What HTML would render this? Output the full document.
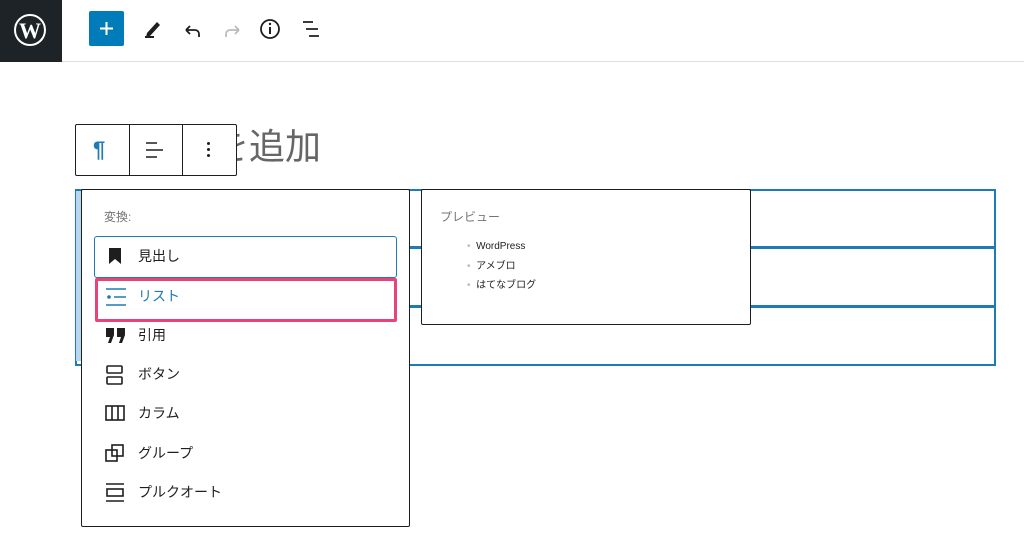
<!DOCTYPE html>
<html><head><meta charset="utf-8"><style>
*{margin:0;padding:0;box-sizing:border-box}
body{width:1024px;height:534px;background:#fff;position:relative;overflow:hidden;font-family:"Liberation Sans","Noto Sans CJK JP",sans-serif;color:#1e1e1e}
.a{position:absolute}
.it{position:absolute;left:138px;font-size:14px;line-height:20px}
</style></head><body>
<div class="a" style="left:0;top:0;width:1024px;height:62px;border-bottom:1px solid #ddd"></div>
<div class="a" style="left:0;top:0;width:62px;height:62px;background:#1d2327"></div>
<svg class="a" style="left:13px;top:13px" width="34" height="34" viewBox="0 0 34 34"><circle cx="17" cy="17" r="15" fill="none" stroke="#fff" stroke-width="2"/><text x="17" y="25" text-anchor="middle" font-family="Liberation Serif" font-weight="bold" font-size="22" fill="#fff">W</text></svg>
<div class="a" style="left:89px;top:11px;width:35px;height:35px;background:#007cba;border-radius:2px"></div>
<svg class="a" style="left:89px;top:11px" width="35" height="35"><path d="M17.5 11v13M11 17.5h13" stroke="#fff" stroke-width="2"/></svg>
<svg class="a" style="left:140px;top:16px" width="190" height="26" viewBox="0 0 190 26">
<path d="M5 21h9" stroke="#1e1e1e" stroke-width="2"/><path d="M7 17l10-11 3 3-10 11-4 1z" fill="#1e1e1e"/>
<path d="M46 14h9a4 4 0 0 1 4 4v3M46 14l4-4M46 14l4 4" stroke="#1e1e1e" stroke-width="1.8" fill="none"/>
<path d="M99 14h-9a4 4 0 0 0-4 4v3M99 14l-4-4M99 14l-4 4" stroke="#bbb" stroke-width="1.8" fill="none"/>
<circle cx="130" cy="13" r="9" fill="none" stroke="#1e1e1e" stroke-width="1.8"/><path d="M130 11v7" stroke="#1e1e1e" stroke-width="2"/><circle cx="130" cy="8" r="1.2" fill="#1e1e1e"/>
<path d="M163 6h10M166 13h12M169 20h10" stroke="#1e1e1e" stroke-width="1.8"/>
</svg>
<div class="a" style="left:213px;top:124px;font-size:36px;color:#666;line-height:46px">を追加</div>
<div class="a" style="left:75px;top:189px;width:921px;height:59px;border:2px solid #1e7bb5"></div>
<div class="a" style="left:75px;top:247px;width:921px;height:60px;border:2px solid #1e7bb5"></div>
<div class="a" style="left:75px;top:306px;width:921px;height:60px;border:2px solid #1e7bb5"></div>
<div class="a" style="left:76px;top:191px;width:6px;height:170px;background:#b8d7ef"></div>
<div class="a" style="left:75px;top:124px;width:162px;height:52px;border:1px solid #1e1e1e;background:#fff;border-radius:2px"></div>
<div class="a" style="left:129px;top:124px;width:1px;height:52px;background:#1e1e1e"></div>
<div class="a" style="left:182px;top:124px;width:1px;height:52px;background:#1e1e1e"></div>
<div class="a" style="left:93px;top:137px;font-size:22px;color:#1e7bb5;font-weight:bold">¶</div>
<svg class="a" style="left:142px;top:138px" width="24" height="24"><path d="M4 5h11M4 12h17M4 19h11" stroke="#1e1e1e" stroke-width="1.5"/></svg>
<div class="a" style="left:207px;top:142px;width:3px;height:3px;background:#1e1e1e;border-radius:50%;box-shadow:0 6px #1e1e1e,0 12px #1e1e1e"></div>
<div class="a" style="left:81px;top:189px;width:329px;height:338px;border:1px solid #1e1e1e;background:#fff;border-radius:2px"></div>
<div class="a" style="left:104px;top:208px;font-size:12px;color:#757575">変換:</div>
<div class="a" style="left:94px;top:236px;width:303px;height:42px;border:1.5px solid #1e7bb5;border-radius:3px"></div>
<div class="a" style="left:95px;top:278px;width:302px;height:44px;border:3px solid #e8437a;border-radius:2px"></div>
<svg class="a" style="left:106px;top:246px" width="20" height="20"><path d="M3 2h12v16l-6-5-6 5z" fill="#1e1e1e"/></svg>
<div class="it" style="top:246px">見出し</div>
<svg class="a" style="left:104px;top:285px" width="24" height="24"><circle cx="5" cy="12" r="1.8" fill="#1e7bb5"/><path d="M2 4h20M10 12h12M2 20h20" stroke="#1e7bb5" stroke-width="1.6"/></svg>
<div class="it" style="top:286px;color:#1e7bb5">リスト</div>
<svg class="a" style="left:105px;top:326px" width="22" height="18"><path d="M1 2h8v7l-3 8h-3l2-6h-4z M12 2h8v7l-3 8h-3l2-6h-4z" fill="#1e1e1e"/></svg>
<div class="it" style="top:325px">引用</div>
<svg class="a" style="left:105px;top:364px" width="20" height="22"><rect x="2" y="2" width="15" height="7" rx="1" fill="none" stroke="#1e1e1e" stroke-width="1.6"/><rect x="2" y="13" width="15" height="7" rx="1" fill="none" stroke="#1e1e1e" stroke-width="1.6"/></svg>
<div class="it" style="top:364px">ボタン</div>
<svg class="a" style="left:104px;top:403px" width="22" height="20"><rect x="2" y="3" width="18" height="14" fill="none" stroke="#1e1e1e" stroke-width="1.6"/><path d="M8 3v14M14 3v14" stroke="#1e1e1e" stroke-width="1.6"/></svg>
<div class="it" style="top:403px">カラム</div>
<svg class="a" style="left:104px;top:442px" width="22" height="22"><rect x="2" y="8" width="11" height="11" fill="none" stroke="#1e1e1e" stroke-width="1.6"/><rect x="8" y="3" width="11" height="11" fill="none" stroke="#1e1e1e" stroke-width="1.6"/></svg>
<div class="it" style="top:443px">グループ</div>
<svg class="a" style="left:104px;top:481px" width="22" height="22"><path d="M2 3h18M2 20h18" stroke="#1e1e1e" stroke-width="1.6"/><rect x="3" y="8" width="16" height="7" fill="none" stroke="#1e1e1e" stroke-width="1.6"/></svg>
<div class="it" style="top:482px">プルクオート</div>
<div class="a" style="left:421px;top:189px;width:330px;height:136px;border:1px solid #1e1e1e;background:#fff;border-radius:2px"></div>
<div class="a" style="left:440px;top:208px;font-size:12px;color:#757575">プレビュー</div>
<div class="a" style="left:467px;top:237px;font-size:10px;line-height:19.5px;color:#1e1e1e">
<div><span style="color:#bbb">•</span>&nbsp; WordPress</div><div><span style="color:#bbb">•</span>&nbsp; アメブロ</div><div><span style="color:#bbb">•</span>&nbsp; はてなブログ</div></div>
</body></html>
